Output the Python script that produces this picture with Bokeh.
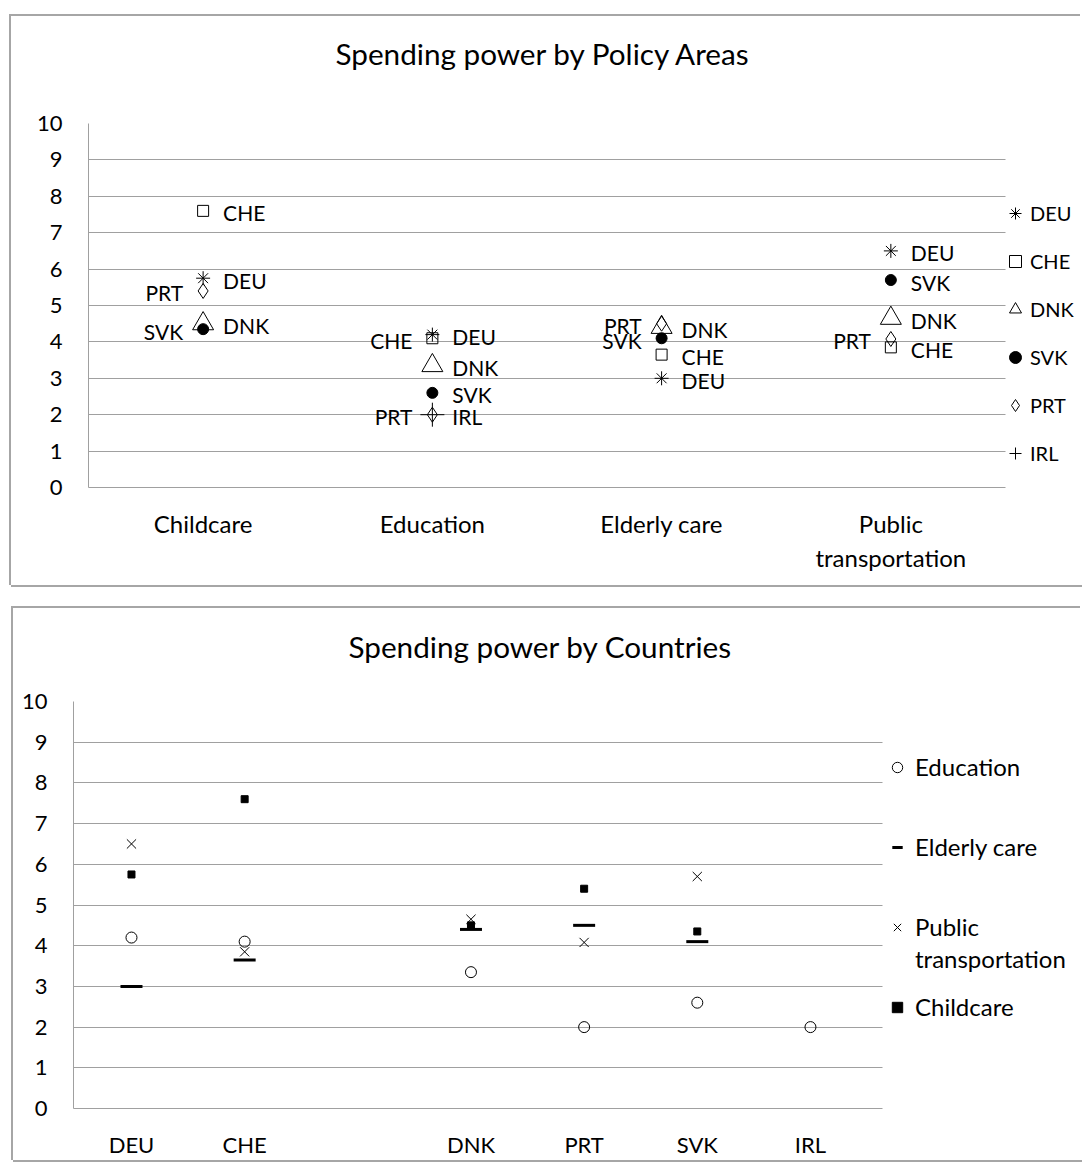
from bokeh.plotting import figure
from bokeh.models import (Range1d, FixedTicker, Legend, LegendItem)
from bokeh.embed import file_html
from bokeh.resources import INLINE
from bokeh.core.properties import value

# ---------------- data ----------------
policy_areas = ["Childcare", "Education", "Elderly care", "Public transportation"]
area_tick_labels = ["Childcare", "Education", "Elderly care", "Public\ntransportation"]
countries = ["DEU", "CHE", "DNK", "SVK", "PRT", "IRL"]
deu = [5.75, 4.2, 3.0, 6.5]
che = [7.6, 4.1, 3.65, 3.85]
dnk = [4.5, 3.35, 4.4, 4.65]
svk = [4.35, 2.6, 4.1, 5.7]
prt = [5.4, 2.0, 4.5, 4.08]
irl = [None, 2.0, None, None]
country_axis = ["DEU", "CHE", "", "DNK", "PRT", "SVK", "IRL"]
bottom_series = ["Education", "Elderly care", "Public transportation", "Childcare"]
bottom_legend_labels = ["Education", "Elderly care", "Public", "Childcare"]
bottom_legend_wrap = "transportation"
y_ticks = [0, 1, 2, 3, 4, 5, 6, 7, 8, 9, 10]
title_top = "Spending power by Policy Areas"
title_bottom = "Spending power by Countries"

values = {"DEU": deu, "CHE": che, "DNK": dnk, "SVK": svk, "PRT": prt, "IRL": irl}

# ---------------- styles ----------------
FONT = "Lato"
GRID = "#a0a0a0"
LEFT_LABELS = {("Childcare", "PRT"), ("Childcare", "SVK"), ("Education", "CHE"),
               ("Education", "PRT"), ("Elderly care", "PRT"), ("Elderly care", "SVK"),
               ("Public transportation", "PRT")}
top_marker = {
    "DEU": dict(marker="asterisk", size=14, fill_color=None),
    "CHE": dict(marker="square", size=11, fill_color=None),
    "DNK": dict(marker="triangle", size=21, fill_color=None),
    "SVK": dict(marker="circle", size=11, fill_color="black"),
    "PRT": dict(marker="diamond", size=15, fill_color=None),
    "IRL": dict(marker="cross", size=24, fill_color=None),
}
bottom_marker = {
    "Education": dict(marker="circle", size=11, fill_color=None, line_width=1),
    "Elderly care": dict(marker="dash", size=22, fill_color=None, line_width=3),
    "Public transportation": dict(marker="x", size=13, fill_color=None, line_width=1),
    "Childcare": dict(marker="square", size=7, fill_color="black", line_width=1),
}


def style_axes(p):
    for ax in (p.xaxis, p.yaxis):
        ax.axis_line_color = GRID
        ax.axis_line_width = 1
        ax.major_tick_line_color = None
        ax.minor_tick_line_color = None
        ax.major_tick_out = 0
        ax.major_tick_in = 0
        ax.minor_tick_out = 0
        ax.minor_tick_in = 0
        ax.major_label_text_font = FONT
        ax.major_label_text_color = "black"
    p.yaxis.major_label_text_font_size = "22px"
    p.xgrid.grid_line_color = None
    p.ygrid.grid_line_color = GRID
    p.ygrid.grid_line_width = 1
    p.yaxis.ticker = FixedTicker(ticks=y_ticks)
    p.ygrid.ticker = FixedTicker(ticks=y_ticks)
    p.yaxis.major_label_standoff = 26
    p.outline_line_color = None
    p.background_fill_color = "white"
    p.border_fill_color = "white"
    p.title.text_font = FONT
    p.title.text_font_size = "29.7px"
    p.title.text_font_style = "normal"
    p.title.text_color = "black"
    p.title.align = "left"
    p.title.vertical_align = "bottom"


def limit_grid(p, x0, x1):
    p.xaxis.bounds = (x0, x1)
    try:
        p.ygrid.cross_bounds = (x0, x1)
    except Exception:
        p.ygrid.grid_line_color = None
        n = len(y_ticks)
        p.segment(x0=[x0] * n, x1=[x1] * n, y0=y_ticks, y1=y_ticks,
                  line_color=GRID, line_width=1, level="underlay")


def make_legend(items, loc, gw, spacing, standoff, fs):
    return Legend(items=items, location=loc, orientation="vertical",
                  glyph_width=gw, glyph_height=gw, label_height=gw, spacing=spacing,
                  label_standoff=standoff, padding=0, margin=0,
                  border_line_color=None, background_fill_alpha=0,
                  label_text_font=FONT, label_text_font_size=fs, label_text_color="black")


SHADOW = {"box-shadow": "-2px -2px 0 0 #a6a6a6, -2px 0 0 0 #a6a6a6, 0 2px 0 0 #a6a6a6"}

# ---------------- top chart ----------------
p1 = figure(width=1071, height=569, x_range=Range1d(0, 4.336), y_range=Range1d(0, 10),
            output_backend="svg", toolbar_location=None, title=title_top + "\n",
            min_border_left=77, min_border_right=0, min_border_top=107, min_border_bottom=98)
style_axes(p1)
limit_grid(p1, 0, len(policy_areas))
p1.title.offset = 247
p1.title.standoff = 35
p1.xaxis.ticker = FixedTicker(ticks=[i + 0.5 for i in range(len(policy_areas))])
p1.xaxis.major_label_overrides = {i + 0.5: lab for i, lab in enumerate(area_tick_labels)}
p1.xaxis.major_label_standoff = 21
p1.xaxis.major_label_text_font_size = "24px"
p1.xaxis.major_label_text_line_height = 1.2

items = []
for c in countries:
    xs, ys = [], []
    for i, v in enumerate(values[c]):
        if v is not None:
            xs.append(i + 0.5)
            ys.append(v)
    r = p1.scatter(x=xs, y=ys, line_color="black", line_width=1, **top_marker[c])
    items.append(LegendItem(label=c, renderers=[r]))

# data labels
lx, ly, lt, rx, ry, rt = [], [], [], [], [], []
for c in countries:
    for i, v in enumerate(values[c]):
        if v is None:
            continue
        if (policy_areas[i], c) in LEFT_LABELS:
            lx.append(i + 0.5); ly.append(v); lt.append(c)
        else:
            rx.append(i + 0.5); ry.append(v); rt.append(c)
p1.text(x=rx, y=ry, text=rt, x_offset=20, y_offset=2, text_align="left", text_baseline="middle",
        text_font=value(FONT), text_font_size="21px", text_color="black")
p1.text(x=lx, y=ly, text=lt, x_offset=-20, y_offset=2, text_align="right", text_baseline="middle",
        text_font=value(FONT), text_font_size="21px", text_color="black")

p1.add_layout(make_legend(items, (912, 19), 30, 18, 0, "20px"), "center")
p1.margin = (16, 0, 0, 11)
p1.styles = SHADOW

# ---------------- bottom chart ----------------
p2 = figure(width=1069, height=552, x_range=Range1d(-0.0124, 8.904), y_range=Range1d(0, 10),
            output_backend="svg", toolbar_location=None, title=title_bottom + "\n",
            min_border_left=60, min_border_right=0, min_border_top=93, min_border_bottom=50)
style_axes(p2)
limit_grid(p2, -0.0124, 7.14)
p2.title.offset = 275
p2.title.standoff = 5
p2.xaxis.ticker = FixedTicker(ticks=[i + 0.5 for i, c in enumerate(country_axis) if c])
p2.xaxis.major_label_overrides = {i + 0.5: c for i, c in enumerate(country_axis) if c}
p2.xaxis.major_label_standoff = 22
p2.xaxis.major_label_text_font_size = "22px"

items2 = []
for area, lab in zip(bottom_series, bottom_legend_labels):
    ai = policy_areas.index(area)
    xs, ys = [], []
    for i, c in enumerate(country_axis):
        if c and values[c][ai] is not None:
            xs.append(i + 0.5)
            ys.append(values[c][ai])
    r = p2.scatter(x=xs, y=ys, line_color="black", **bottom_marker[area])
    items2.append(LegendItem(label=lab, renderers=[r]))

p2.add_layout(make_legend(items2, (811, 87), 26, 51, 5, "24px"), "center")
# second line of the wrapped "Public transportation" legend entry (no glyph)
blank = p2.scatter(x=[], y=[], marker="circle", size=1, line_alpha=0, fill_alpha=0)
p2.add_layout(make_legend([LegendItem(label=bottom_legend_wrap, renderers=[blank])],
                          (811, 135), 26, 0, 5, "24px"), "center")
p2.margin = (23, 0, 0, 13)
p2.styles = SHADOW

open("out.html", "w").write(file_html([p1, p2], INLINE))
